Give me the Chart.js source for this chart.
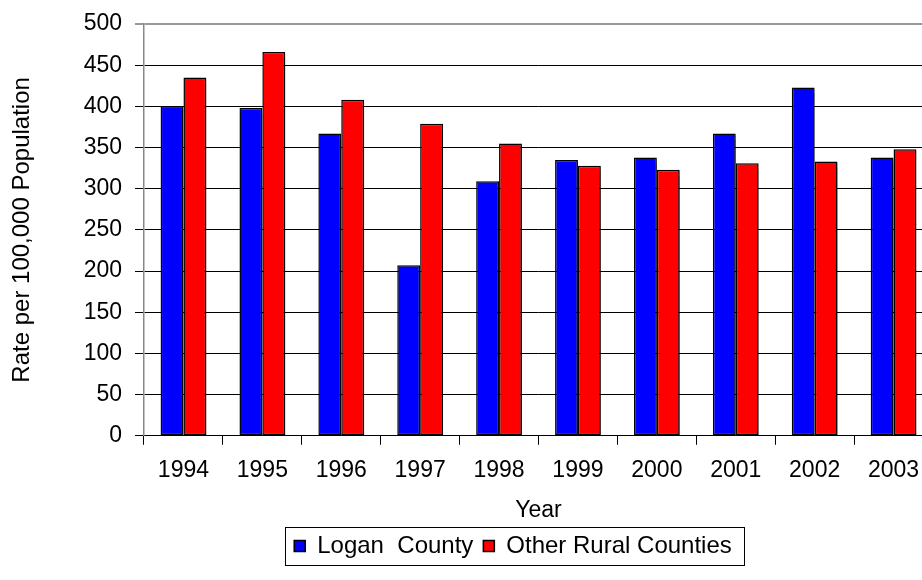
<!DOCTYPE html>
<html>
<head>
<meta charset="utf-8">
<script src="https://cdn.jsdelivr.net/npm/chart.js@4"></script>
<style>
  html, body { margin: 0; padding: 0; background: #fff; overflow: hidden; }
  #wrap { width: 1026px; height: 580px; }
</style>
</head>
<body>
<div id="wrap"><canvas id="chart"></canvas></div>
<script>
const years = ['1994', '1995', '1996', '1997', '1998', '1999', '2000', '2001', '2002', '2003'];
const loganCounty = [400, 398, 367, 207, 309, 335, 338, 367, 423, 338];
const otherRural = [435, 466, 408, 379, 355, 328, 323, 331, 333, 348];
const yTicks = [0, 50, 100, 150, 200, 250, 300, 350, 400, 450, 500];

const font = 'Liberation Sans, Arial, sans-serif';

// box round the legend, like the original
const legendBox = {
    id: 'legendBox',
    afterDraw(chart) {
        const boxes = chart.legend.legendHitBoxes;
        if (!boxes || !boxes.length) return;
        const left = Math.min(...boxes.map(b => b.left)) - 9;
        const right = Math.max(...boxes.map(b => b.left + b.width)) + 12;
        const top = Math.min(...boxes.map(b => b.top)) - 7;
        const bottom = Math.max(...boxes.map(b => b.top + b.height)) + 7;
        const ctx = chart.ctx;
        ctx.save();
        ctx.strokeStyle = '#000';
        ctx.lineWidth = 1;
        ctx.strokeRect(Math.round(left) + 0.5, Math.round(top) + 0.5, Math.round(right - left), Math.round(bottom - top));
        ctx.restore();
    }
};

// soft drop shadow under the bars
const barShadow = {
    id: 'barShadow',
    beforeDatasetsDraw(chart) {
        const ctx = chart.ctx;
        ctx.save();
        ctx.shadowColor = 'rgba(0,0,0,0.35)';
        ctx.shadowOffsetX = 2;
        ctx.shadowOffsetY = 2;
        ctx.shadowBlur = 1;
    },
    afterDatasetsDraw(chart) {
        chart.ctx.restore();
    }
};

new Chart(document.getElementById('chart'), {
    type: 'bar',
    data: {
        labels: years,
        datasets: [
            {
                label: 'Logan  County',
                data: loganCounty,
                backgroundColor: '#0000ff',
                borderColor: '#000',
                borderWidth: 1.5,
                borderSkipped: false
            },
            {
                label: 'Other Rural Counties',
                data: otherRural,
                backgroundColor: '#ff0000',
                borderColor: '#000',
                borderWidth: 1.5,
                borderSkipped: false
            }
        ]
    },
    options: {
        responsive: true,
        maintainAspectRatio: false,
        animation: false,
        layout: { padding: { top: 24, right: 0, bottom: 12, left: 0 } },
        datasets: {
            bar: { categoryPercentage: 0.58, barPercentage: 1.0 }
        },
        plugins: {
            tooltip: { enabled: false },
            legend: {
                position: 'bottom',
                align: 'center',
                labels: {
                    color: '#000',
                    font: { family: font, size: 24 },
                    boxWidth: 11,
                    boxHeight: 11,
                    padding: 10
                }
            }
        },
        scales: {
            x: {
                grid: {
                    offset: true,
                    drawOnChartArea: false,
                    color: '#000',
                    tickLength: 9
                },
                border: { color: '#000', width: 1 },
                ticks: {
                    color: '#000',
                    font: { family: font, size: 23 },
                    maxRotation: 0,
                    padding: 12
                },
                title: {
                    display: true,
                    text: 'Year',
                    color: '#000',
                    font: { family: font, size: 23 },
                    padding: { top: 0, bottom: 0 }
                }
            },
            y: {
                min: 0,
                max: 500,
                afterBuildTicks(scale) {
                    scale.ticks = yTicks.map(v => ({ value: v }));
                },
                afterFit(scale) {
                    scale.width = 144;
                    scale.paddingTop = 0;
                    scale.paddingBottom = 0;
                },
                grid: {
                    color: ctx => (ctx.tick && ctx.tick.value === 500) ? '#999' : '#000',
                    lineWidth: ctx => (ctx.tick && ctx.tick.value === 500) ? 2 : 1,
                    tickLength: 9
                },
                border: { color: '#888', width: 1.5 },
                ticks: {
                    color: '#000',
                    font: { family: font, size: 23 },
                    padding: 13
                },
                title: {
                    display: true,
                    text: 'Rate per 100,000 Population',
                    color: '#000',
                    font: { family: font, size: 24 },
                    padding: { top: 8, bottom: 4 }
                }
            },
            // empty right-hand strip so the plot runs past the window edge
            yRight: {
                position: 'right',
                display: true,
                afterFit(scale) {
                    scale.width = 93;
                    scale.paddingTop = 0;
                    scale.paddingBottom = 0;
                },
                grid: { display: false },
                border: { display: false },
                ticks: { display: false }
            }
        }
    },
    plugins: [barShadow, legendBox]
});
</script>
</body>
</html>
